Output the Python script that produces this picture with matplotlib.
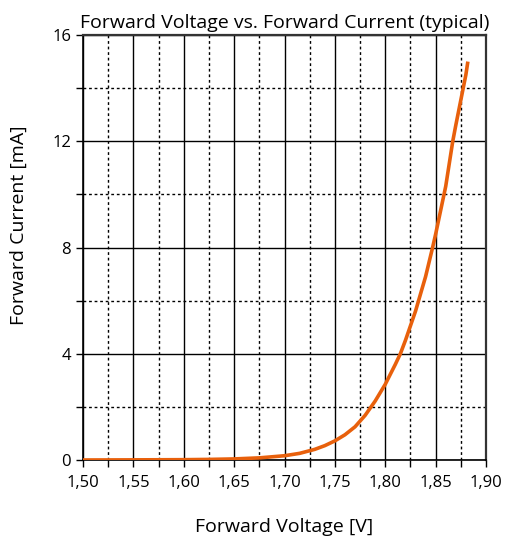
import matplotlib
matplotlib.use("Agg")
import matplotlib.pyplot as plt
from matplotlib.ticker import MultipleLocator, FuncFormatter

plt.rcParams['font.family'] = ['Open Sans', 'DejaVu Sans']

voltage = [1.50, 1.55, 1.60, 1.625, 1.65, 1.675, 1.70, 1.715, 1.73, 1.74, 1.75, 1.76, 1.77,
           1.78, 1.79, 1.80, 1.81, 1.815, 1.82, 1.83, 1.84, 1.847, 1.85, 1.86, 1.867, 1.87, 1.88, 1.882]
current = [0.0, 0.005, 0.012, 0.022, 0.04, 0.08, 0.16, 0.25, 0.40, 0.54, 0.72, 0.95, 1.25,
           1.68, 2.22, 2.85, 3.6, 4.0, 4.5, 5.6, 6.9, 8.0, 8.5, 10.3, 12.0, 12.6, 14.5, 15.0]

x_ticks = [1.50, 1.55, 1.60, 1.65, 1.70, 1.75, 1.80, 1.85, 1.90]
y_ticks = [0, 4, 8, 12, 16]

fig = plt.figure(figsize=(5.08, 5.37), dpi=100)
ax = fig.add_axes([0.1634, 0.1434, 0.7933, 0.7914])

ax.plot(voltage, current, color='#E8600C', lw=2.6, solid_capstyle='butt', zorder=3)

ax.set_xlim(1.50, 1.90)
ax.set_ylim(0, 16)
ax.set_xticks(x_ticks)
ax.set_yticks(y_ticks)
ax.xaxis.set_minor_locator(MultipleLocator(0.025))
ax.yaxis.set_minor_locator(MultipleLocator(2))
ax.xaxis.set_major_formatter(FuncFormatter(lambda v, p: f"{v:.2f}".replace('.', ',')))

ax.grid(which='major', color='black', lw=1.0, ls='-')
ax.grid(which='minor', color='black', lw=1.0, ls=(0, (2, 2)))
ax.set_axisbelow(True)

ax.tick_params(which='both', direction='out', length=5, width=1, colors='black',
               labelsize=12, top=False, right=False)
ax.tick_params(axis='x', pad=6)
for s in ['left', 'bottom']:
    ax.spines[s].set_color('black')
    ax.spines[s].set_linewidth(1.2)
for s in ['top', 'right']:
    ax.spines[s].set_color('#333333')
    ax.spines[s].set_linewidth(1.6)

ax.set_title('Forward Voltage vs. Forward Current (typical)', fontsize=14, pad=5)
ax.set_xlabel('Forward Voltage [V]', fontsize=14, labelpad=19)
ax.set_ylabel('Forward Current [mA]', fontsize=14)
ax.yaxis.set_label_coords(-0.137, 0.553)

fig.savefig('out.png', dpi=100)
